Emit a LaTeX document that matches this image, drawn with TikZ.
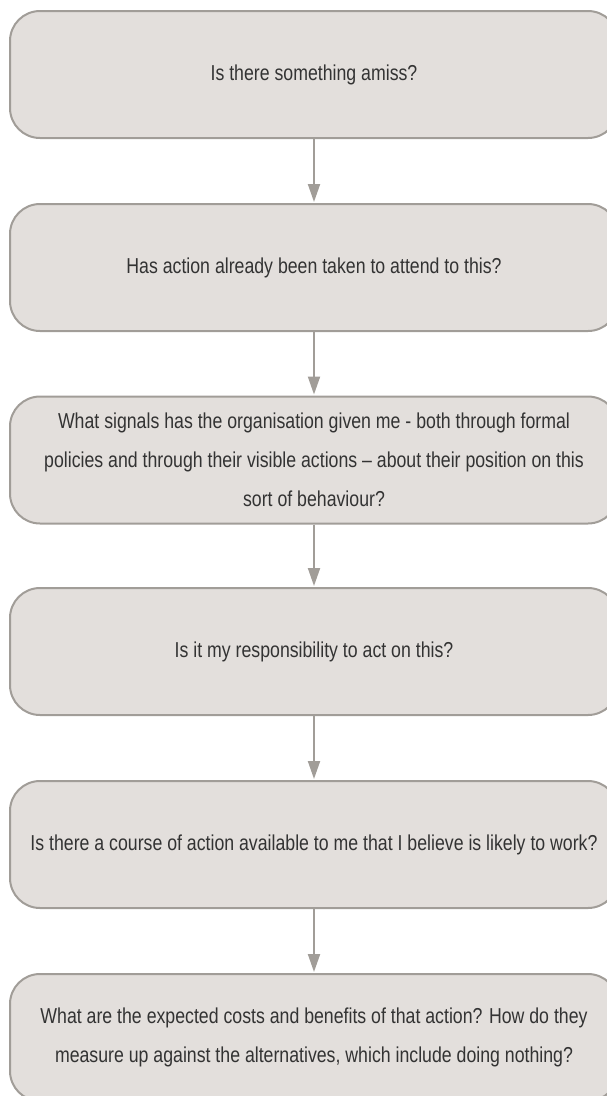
\documentclass[tikz,border=0pt]{standalone}
\usepackage{fontspec}
\setmainfont{Liberation Sans}[FakeStretch=0.82]
\usetikzlibrary{arrows.meta}
\definecolor{boxfill}{HTML}{E3DFDC}
\definecolor{boxline}{HTML}{A19D98}
\definecolor{txt}{HTML}{333333}
\tikzset{
  qbox/.style={draw=boxline, line width=2pt, fill=boxfill, rounded corners=30pt,
    minimum width=608pt, minimum height=127pt, align=center, text=txt,
    font=\fontsize{21.6}{39}\selectfont, inner sep=0pt},
  flow/.style={draw=boxline, line width=2pt, -{Triangle[width=12pt,length=18pt]}, shorten >=1pt}
}
\begin{document}
\begin{tikzpicture}[x=1pt,y=-1pt]
\useasboundingbox (0,0) rectangle (607,1096);
\node[qbox] (b1) at (314,74.5) {Is there something amiss?};
\node[qbox] (b2) at (314,267.5) {Has action already been taken to attend to this?};
\node[qbox] (b3) at (314,460) {What signals has the organisation given me - both through formal\\policies and through their visible actions -- about their position on this\\sort of behaviour?};
\node[qbox] (b4) at (314,651.5) {Is it my responsibility to act on this?};
\node[qbox] (b5) at (314,844.5) {Is there a course of action available to me that I believe is likely to work?};
\node[qbox] (b6) at (314,1037.5) {What are the expected costs and benefits of that action? How do they\\measure up against the alternatives, which include doing nothing?};
\draw[flow] (b1) -- (b2);
\draw[flow] (b2) -- (b3);
\draw[flow] (b3) -- (b4);
\draw[flow] (b4) -- (b5);
\draw[flow] (b5) -- (b6);
\end{tikzpicture}
\end{document}
